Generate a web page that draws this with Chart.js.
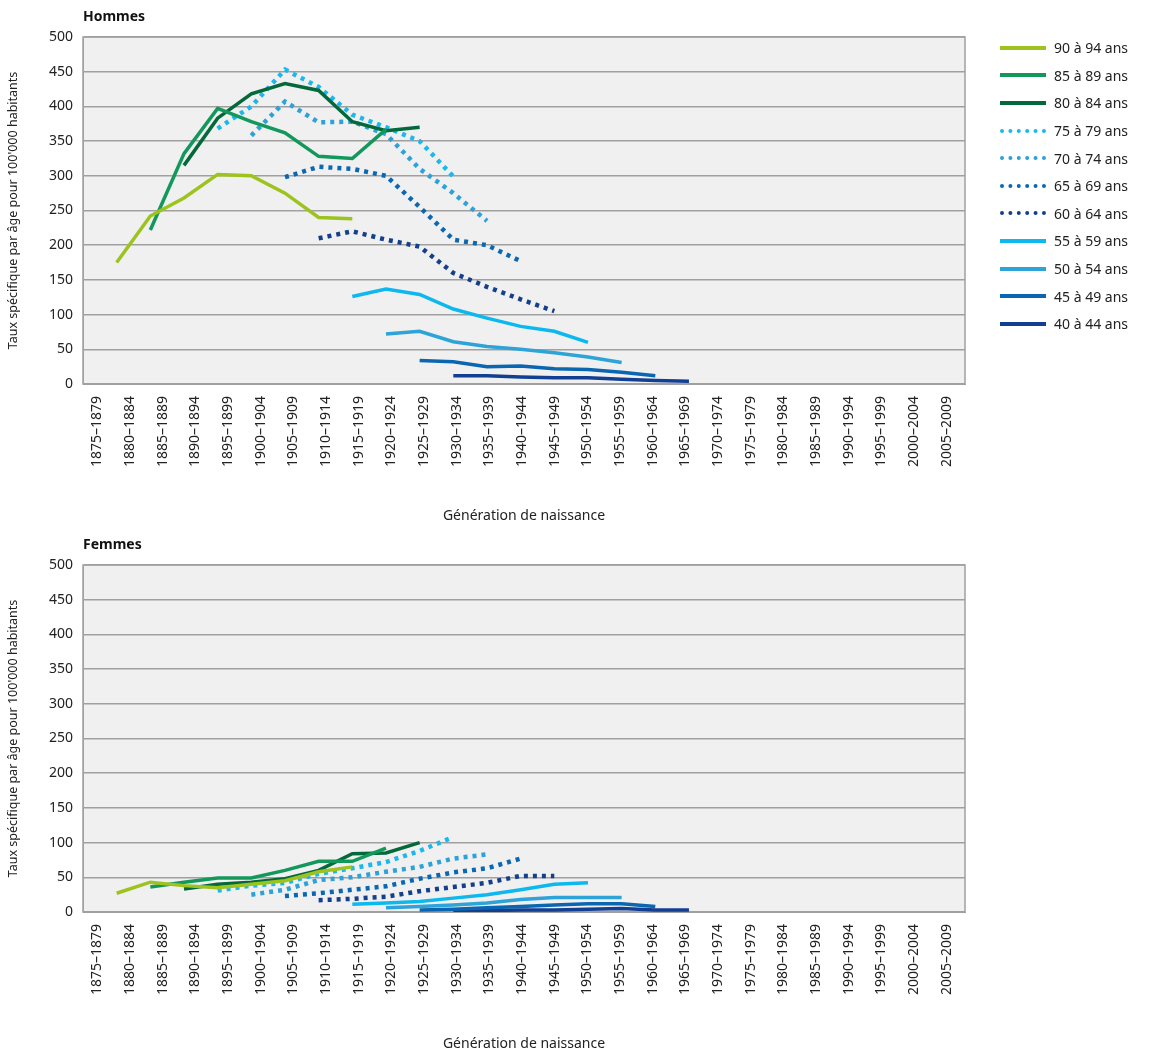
<!DOCTYPE html>
<html>
<head>
<meta charset="utf-8">
<script src="https://cdn.jsdelivr.net/npm/chart.js@4/dist/chart.umd.min.js"></script>
<style>
  body { margin: 0; background: #fff; font-family: "Noto Sans", sans-serif; }
  .box { position: relative; width: 1165px; }
  #legend { position: absolute; left: 1000px; top: 34px; font-size: 14px; color: #222; }
  #legend div { height: 27.6px; display: flex; align-items: center; }
  #legend span.l { display: inline-block; width: 46px; margin-right: 8px; }
</style>
</head>
<body>
<div class="box"><canvas id="hommes"></canvas><div id="legend"></div></div>
<div class="box"><canvas id="femmes"></canvas></div>
<script>
// Générations de naissance
const generations = ["1875–1879","1880–1884","1885–1889","1890–1894","1895–1899","1900–1904","1905–1909",
  "1910–1914","1915–1919","1920–1924","1925–1929","1930–1934","1935–1939","1940–1944","1945–1949",
  "1950–1954","1955–1959","1960–1964","1965–1969","1970–1974","1975–1979","1980–1984","1985–1989",
  "1990–1994","1995–1999","2000–2004","2005–2009"];
const yTicks = [0, 50, 100, 150, 200, 250, 300, 350, 400, 450, 500];

const ageGroups = ["90 à 94 ans","85 à 89 ans","80 à 84 ans","75 à 79 ans","70 à 74 ans","65 à 69 ans",
  "60 à 64 ans","55 à 59 ans","50 à 54 ans","45 à 49 ans","40 à 44 ans"];
const colors = ["#9cc31e","#13985c","#03683a","#1ab8ee","#2ca1da","#0a67b2","#143f8d",
  "#0cb8ee","#2da3d7","#0b66b1","#123f91"];
const dotted = [false,false,false,true,true,true,true,false,false,false,false];
// index de la première génération de chaque groupe d'âge
const firstGen = [1,2,3,4,5,6,7,8,9,10,11];

const hommes = [
  [175,242,268,302,300,275,240,238],
  [222,332,397,378,362,328,325,367],
  [315,383,418,433,423,378,365,370],
  [368,400,453,428,388,370,350,299],
  [358,407,377,378,360,310,275,235],
  [298,313,310,300,255,208,200,177],
  [210,220,208,198,160,140,122,105],
  [126,137,129,108,95,83,76,60],
  [72,76,61,54,50,45,39,31],
  [34,32,25,26,22,21,17,12],
  [12,12,10,9,9,7,5,4]
];
const femmes = [
  [27,43,38,35,40,45,58,65],
  [36,43,49,49,60,73,73,92],
  [33,40,43,48,60,84,85,100],
  [31,38,42,55,63,72,88,108],
  [25,32,46,50,58,65,77,83],
  [23,27,32,37,48,57,63,77],
  [17,19,22,30,36,42,52,52],
  [11,13,15,20,25,32,40,42],
  [6,8,10,13,18,21,21,21],
  [3,4,6,8,10,12,12,8],
  [1,2,3,3,4,5,3,3]
];

const font = { family: "Noto Sans", size: 14 };
Chart.defaults.color = "#222";

const plotBg = {
  id: "plotBg",
  beforeDraw(chart, args, opts) {
    const { ctx, chartArea: a } = chart;
    ctx.save();
    ctx.fillStyle = "#f0f0f0";
    ctx.fillRect(a.left, a.top, a.right - a.left, a.bottom - a.top);
    ctx.strokeStyle = "#a0a0a0";
    ctx.lineWidth = 1.5;
    ctx.strokeRect(a.left, a.top, a.right - a.left, a.bottom - a.top);
    ctx.fillStyle = "#111";
    ctx.font = "bold 14px 'Noto Sans'";
    ctx.textBaseline = "middle";
    ctx.fillText(opts.title, a.left, 17);
    ctx.restore();
  }
};

function makeChart(id, values, title) {
  const datasets = values.map((vals, k) => ({
    label: ageGroups[k],
    data: vals.map((v, j) => ({ x: firstGen[k] + j, y: v })),
    borderColor: colors[k],
    backgroundColor: colors[k],
    borderWidth: dotted[k] ? 4.5 : 3.5,
    borderDash: dotted[k] ? [4, 5] : [],
    pointRadius: 0,
    tension: 0
  }));
  const canvas = document.getElementById(id);
  canvas.width = 1165; canvas.height = 528;
  return new Chart(canvas, {
    type: "line",
    data: { datasets },
    plugins: [plotBg],
    options: {
      responsive: false,
      animation: false,
      layout: { padding: { left: 6, right: 200, top: 37, bottom: 0 } },
      plugins: { legend: { display: false }, tooltip: { enabled: false }, plotBg: { title } },
      scales: {
        x: {
          type: "linear", min: 0, max: 26.2, display: false
        },
        gen: {
          type: "linear", position: "bottom", min: -0.5, max: 26.5,
          afterBuildTicks: s => { s.ticks = generations.map((g, i) => ({ value: i })); },
          afterFit: s => { s.height = 144; },
          grid: { display: false },
          border: { color: "#a0a0a0" },
          ticks: { font, minRotation: 90, maxRotation: 90, autoSkip: false, padding: 4, labelOffset: -2,
                   callback: v => generations[v] },
          title: { display: true, text: "Génération de naissance", font, padding: { top: 6 } }
        },
        y: {
          min: 0, max: 500,
          afterBuildTicks: s => { s.ticks = yTicks.map(v => ({ value: v })); },
          afterFit: s => { s.width = 77; },
          grid: { color: "#a0a0a0", lineWidth: 1.5, drawTicks: false },
          border: { color: "#a0a0a0" },
          ticks: { font, padding: 10 },
          title: { display: true, text: "Taux spécifique par âge pour 100'000 habitants",
                   font: { family: "Noto Sans", size: 12.5 }, padding: 0 }
        }
      }
    }
  });
}

makeChart("hommes", hommes, "Hommes");
makeChart("femmes", femmes, "Femmes");

const legend = document.getElementById("legend");
ageGroups.forEach((g, k) => {
  const row = document.createElement("div");
  const border = dotted[k] ? `4px dotted ${colors[k]}` : `4px solid ${colors[k]}`;
  row.innerHTML = `<span class="l" style="border-top:${border}"></span>${g}`;
  legend.appendChild(row);
});
</script>
</body>
</html>
